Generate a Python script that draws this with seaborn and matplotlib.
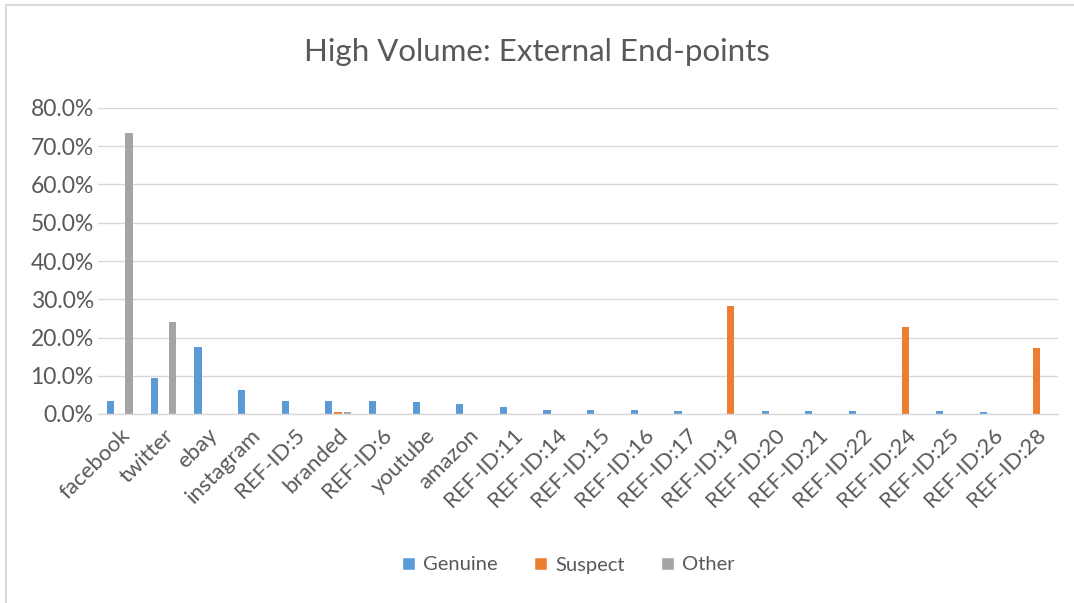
import matplotlib
matplotlib.use("Agg")
import matplotlib.pyplot as plt
import seaborn as sns
import pandas as pd
from matplotlib.ticker import FuncFormatter, MultipleLocator
from matplotlib.lines import Line2D

categories = ["facebook", "twitter", "ebay", "instagram", "REF-ID:5", "branded", "REF-ID:6",
              "youtube", "amazon", "REF-ID:11", "REF-ID:14", "REF-ID:15", "REF-ID:16", "REF-ID:17",
              "REF-ID:19", "REF-ID:20", "REF-ID:21", "REF-ID:22", "REF-ID:24", "REF-ID:25",
              "REF-ID:26", "REF-ID:28"]
genuine = [0.035, 0.093, 0.174, 0.063, 0.035, 0.035, 0.035, 0.032, 0.025, 0.019, 0.011, 0.011,
           0.011, 0.0085, 0.0, 0.0085, 0.0085, 0.0085, 0.0, 0.0085, 0.005, 0.0]
suspect = [0.0, 0.0, 0.0, 0.0, 0.0, 0.004, 0.0, 0.0, 0.0, 0.0, 0.0, 0.0, 0.0, 0.0, 0.283, 0.0,
           0.0, 0.0, 0.227, 0.0, 0.0, 0.173]
other = [0.735, 0.24, 0.0, 0.0, 0.0, 0.004, 0.0, 0.0, 0.0, 0.0, 0.0, 0.0, 0.0, 0.0, 0.0, 0.0,
         0.0, 0.0, 0.0, 0.0, 0.0, 0.0]
series_names = ["Genuine", "Suspect", "Other"]
colors = ["#5B9BD5", "#ED7D31", "#A5A5A5"]

rows = []
for name, vals in zip(series_names, [genuine, suspect, other]):
    for c, v in zip(categories, vals):
        rows.append({"cat": c, "val": v, "series": name})
df = pd.DataFrame(rows)

sns.set_style("white")
plt.rcParams["font.family"] = ["Lato", "DejaVu Sans"]
txt = "#595959"

fig = plt.figure(figsize=(10.74, 6.03), dpi=100)
ax = fig.add_axes([98 / 1074, 1 - 414 / 603, (1058 - 98) / 1074, (414 - 108) / 603])

sns.barplot(data=df, x="cat", y="val", hue="series", order=categories,
            hue_order=series_names, palette=colors, width=0.63, ax=ax,
            legend=True, saturation=1, errorbar=None)

for p in ax.patches:
    w = p.get_width()
    if w <= 0:
        continue
    cx = p.get_x() + w / 2
    nw = w * 0.78
    p.set_x(cx - nw / 2)
    p.set_width(nw)
    p.set_edgecolor("none")

ax.set_ylim(0, 0.8)
ax.set_xlim(-0.5, len(categories) - 0.5)
ax.yaxis.set_major_locator(MultipleLocator(0.1))
ax.yaxis.set_major_formatter(FuncFormatter(lambda v, _: f"{v*100:.1f}%"))
ax.grid(axis="y", color="#D9D9D9", linewidth=1)
ax.set_axisbelow(True)
for s in ["top", "right", "left"]:
    ax.spines[s].set_visible(False)
ax.spines["bottom"].set_color("#D9D9D9")
ax.spines["bottom"].set_linewidth(1)
ax.set_xlabel("")
ax.set_ylabel("")
ax.tick_params(axis="y", length=0, colors=txt, labelsize=16.5, pad=3)
ax.tick_params(axis="x", length=0, colors=txt, labelsize=16, pad=8)
for lab in ax.get_xticklabels():
    lab.set_rotation(45)
    lab.set_ha("right")
    lab.set_rotation_mode("anchor")

fig.text(0.5, 1 - 52 / 603, "High Volume: External End-points", color=txt, fontsize=22.5,
         ha="center", va="center")

leg = ax.legend(loc="center", bbox_to_anchor=(0.49, -(565 - 414) / (414 - 108)),
                ncol=3, frameon=False, fontsize=14.5, handlelength=0.65, handleheight=0.65,
                handletextpad=0.4, columnspacing=1.8, labelcolor=txt)

fig.add_artist(Line2D([6 / 1074, 6 / 1074], [0, 1 - 5 / 603], transform=fig.transFigure,
                      color="#D9D9D9", linewidth=1.5))
fig.add_artist(Line2D([6 / 1074, 1], [1 - 5 / 603, 1 - 5 / 603], transform=fig.transFigure,
                      color="#D9D9D9", linewidth=1.5))

fig.savefig("out.png", dpi=100, facecolor="white")
